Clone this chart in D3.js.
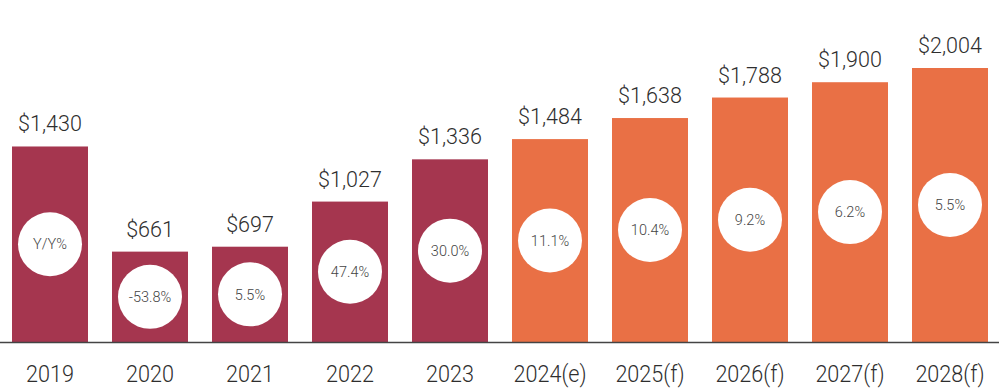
<!DOCTYPE html>
<html>
<head>
<meta charset="utf-8">
<script src="https://cdn.jsdelivr.net/npm/d3@7"></script>
<style>
  html, body { margin: 0; padding: 0; background: #fff; }
  svg { display: block; font-family: Roboto, "Liberation Sans", Arial, sans-serif; font-weight: 300; }
</style>
</head>
<body>
<svg id="chart" width="999" height="390"></svg>
<script>
// data
const years = [`2019`, `2020`, `2021`, `2022`, `2023`, `2024(e)`, `2025(f)`, `2026(f)`, `2027(f)`, `2028(f)`]
const values = [1430, 661, 697, 1027, 1336, 1484, 1638, 1788, 1900, 2004]
const growth = [`Y/Y%`, `-53.8%`, `5.5%`, `47.4%`, `30.0%`, `11.1%`, `10.4%`, `9.2%`, `6.2%`, `5.5%`]
const actualCount = 5 // first five are actuals, rest estimate/forecast

const ACTUAL_COLOR = `#a5364f`
const FORECAST_COLOR = `#e97045`
const TEXT_COLOR = `#2e2e2e`

const width = 999
const baseline = 342

const svg = d3.select(`#chart`)

const x = d3.scaleBand()
  .domain(years)
  .range([0, 1000])
  .paddingInner(0.24)
  .paddingOuter(0.12)

const y = d3.scaleLinear()
  .domain([0, 2004])
  .range([baseline, 68])

const rows = years.map((year, i) => ({ year, value: values[i], growth: growth[i], i }))

// bars
svg.append(`g`)
  .selectAll(`rect`)
  .data(rows)
  .join(`rect`)
  .attr(`x`, (d) => x(d.year))
  .attr(`y`, (d) => y(d.value))
  .attr(`width`, x.bandwidth())
  .attr(`height`, (d) => y(0) - y(d.value))
  .attr(`fill`, (d) => (d.i < actualCount ? ACTUAL_COLOR : FORECAST_COLOR))

// value labels
svg.append(`g`)
  .selectAll(`text`)
  .data(rows)
  .join(`text`)
  .attr(`x`, (d) => x(d.year) + x.bandwidth() / 2)
  .attr(`y`, (d) => y(d.value) - 15)
  .attr(`text-anchor`, `middle`)
  .attr(`font-size`, 21.5)
  .attr(`fill`, TEXT_COLOR)
  .text((d) => `$` + d3.format(`,`)(d.value))

// growth circles
const badges = svg.append(`g`)
  .selectAll(`g`)
  .data(rows)
  .join(`g`)
  .attr(`transform`, (d) => `translate(${x(d.year) + x.bandwidth() / 2},${(y(d.value) + y(0)) / 2})`)

badges.append(`circle`)
  .attr(`r`, 32)
  .attr(`fill`, `#fff`)

badges.append(`text`)
  .attr(`text-anchor`, `middle`)
  .attr(`dy`, `0.36em`)
  .attr(`font-size`, 14.5)
  .attr(`fill`, `#444`)
  .text((d) => d.growth)

// baseline
svg.append(`line`)
  .attr(`x1`, 0)
  .attr(`x2`, width)
  .attr(`y1`, baseline + 0.5)
  .attr(`y2`, baseline + 0.5)
  .attr(`stroke`, `#444`)
  .attr(`stroke-width`, 1.5)

// x axis labels
const xAxis = svg.append(`g`)
  .attr(`transform`, `translate(0,${baseline})`)
  .call(d3.axisBottom(x).tickSize(0).tickPadding(0))
  .attr(`font-family`, null)
  .attr(`font-size`, null)

xAxis.select(`.domain`).remove()
xAxis.selectAll(`text`)
  .attr(`dy`, null)
  .attr(`y`, 40)
  .attr(`font-size`, 23.5)
  .attr(`fill`, TEXT_COLOR)
  .attr(`transform`, `scale(0.92,1)`)
</script>
</body>
</html>
